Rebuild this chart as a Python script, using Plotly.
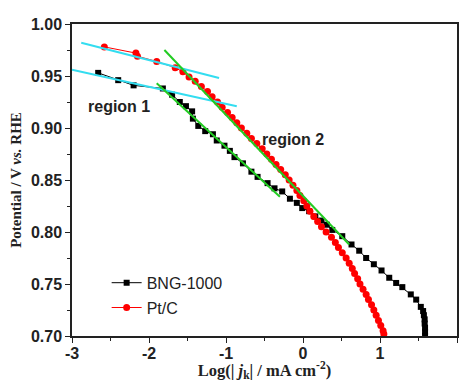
import plotly.graph_objects as go

# BNG-1000 (black squares)
bng_x = [-2.66, -2.40, -2.20, -1.82, -1.70, -1.60, -1.52, -1.44, -1.43, -1.36, -1.27, -1.17,
         -1.12, -1.02, -0.95, -0.89, -0.78, -0.67, -0.59, -0.46, -0.37, -0.27, -0.17, -0.08,
         -0.01, 0.08, 0.16, 0.24, 0.31, 0.38, 0.51, 0.63, 0.73, 0.82, 0.92, 1.02, 1.12, 1.21,
         1.29, 1.40, 1.47, 1.53, 1.56, 1.57, 1.58, 1.58, 1.585, 1.585, 1.585]
bng_y = [0.953, 0.946, 0.941, 0.938, 0.932, 0.925, 0.921, 0.916, 0.909, 0.902, 0.897, 0.894,
         0.888, 0.883, 0.878, 0.872, 0.866, 0.858, 0.853, 0.847, 0.842, 0.839, 0.832, 0.828,
         0.823, 0.820, 0.815, 0.811, 0.807, 0.802, 0.796, 0.788, 0.782, 0.775, 0.769, 0.763,
         0.756, 0.751, 0.747, 0.740, 0.735, 0.728, 0.724, 0.720, 0.716, 0.712, 0.708, 0.704, 0.700]

# Pt/C (red circles)
pt_y = [0.978, 0.972, 0.969, 0.964, 0.958, 0.954, 0.949, 0.945, 0.940, 0.935, 0.930, 0.925,
        0.920, 0.915, 0.910, 0.905, 0.900, 0.895, 0.890, 0.885, 0.880, 0.875, 0.870, 0.865,
        0.860, 0.855, 0.850, 0.845, 0.840, 0.835, 0.830, 0.825, 0.820, 0.815, 0.810, 0.805,
        0.800, 0.795, 0.790, 0.785, 0.780, 0.775, 0.770, 0.765, 0.760, 0.755, 0.750, 0.745,
        0.740, 0.735, 0.730, 0.725, 0.720, 0.715, 0.710, 0.705, 0.702]
pt_x = [-2.58, -2.17, -2.15, -1.90, -1.66, -1.56, -1.48, -1.40, -1.32, -1.24, -1.18, -1.11,
        -1.05, -0.98, -0.92, -0.86, -0.80, -0.73, -0.67, -0.60, -0.53, -0.47, -0.41, -0.35,
        -0.29, -0.23, -0.18, -0.13, -0.08, -0.04, 0.01, 0.05, 0.09, 0.14, 0.19, 0.24,
        0.30, 0.37, 0.42, 0.46, 0.51, 0.56, 0.60, 0.64, 0.67, 0.71, 0.74, 0.78,
        0.82, 0.85, 0.89, 0.92, 0.95, 0.98, 1.01, 1.04, 1.05]

# Tafel fit lines (end points)
cyan1_x = [-2.88, -1.09]
cyan1_y = [0.982, 0.948]
cyan2_x = [-3.00, -0.86]
cyan2_y = [0.956, 0.921]
green1_x = [-1.80, 0.60]
green1_y = [0.975, 0.788]
green2_x = [-1.90, -0.30]
green2_y = [0.943, 0.834]

x_ticks = [-3, -2, -1, 0, 1, 2]
y_ticks = [0.70, 0.75, 0.80, 0.85, 0.90, 0.95, 1.00]

CYAN = "#33DDF0"
GREEN = "#22CC22"
SANS = "Liberation Sans, Arial"
SERIF = "Liberation Serif, Times New Roman"

fig = go.Figure()
fig.add_trace(go.Scatter(x=bng_x, y=bng_y, mode="lines+markers", name="BNG-1000",
                         legendgroup="a",
                         line=dict(color="black", width=1),
                         marker=dict(symbol="square", size=6, color="black")))
fig.add_trace(go.Scatter(x=pt_x, y=pt_y, mode="lines+markers", name="Pt/C",
                         legendgroup="b",
                         line=dict(color="#FF0000", width=1),
                         marker=dict(symbol="circle", size=7, color="#FF0000")))
for fx, fy, c in [(cyan1_x, cyan1_y, CYAN), (cyan2_x, cyan2_y, CYAN),
                  (green1_x, green1_y, GREEN), (green2_x, green2_y, GREEN)]:
    fig.add_trace(go.Scatter(x=fx, y=fy, mode="lines", showlegend=False,
                             line=dict(color=c, width=2), hoverinfo="skip"))

fig.add_annotation(x=-2.39, y=0.921, text="<b>region 1</b>", showarrow=False,
                   font=dict(family=SANS, size=16, color="#222"))
fig.add_annotation(x=-0.13, y=0.889, text="<b>region 2</b>", showarrow=False,
                   font=dict(family=SANS, size=16, color="#222"))

axis_common = dict(showline=True, linecolor="#222", linewidth=1.5, mirror=True,
                   showgrid=False, zeroline=False, ticks="outside", ticklen=5,
                   tickwidth=1.2, tickcolor="#222",
                   tickfont=dict(family=SANS, size=16, color="#222"))

fig.update_xaxes(range=[-3, 2], tickvals=x_ticks, ticktext=[f"<b>{v}</b>" for v in x_ticks],
                 ticklabelstandoff=-3,
                 minor=dict(dtick=0.5, ticks="outside", ticklen=3, tickcolor="#222", tickwidth=1.2),
                 title=dict(text="<b>Log(| <i>j</i><sub>k</sub>| / mA cm<sup>-2</sup>)</b>",
                            font=dict(family=SERIF, size=16.5, color="#222"),
                            standoff=5),
                 **axis_common)
fig.update_yaxes(range=[0.70, 1.00], tickvals=y_ticks, ticktext=[f"<b>{v:.2f}</b>" for v in y_ticks],
                 minor=dict(dtick=0.025, ticks="outside", ticklen=3, tickcolor="#222", tickwidth=1.2),
                 title=dict(text="<b>Potential / V <i>vs.</i> RHE</b>",
                            font=dict(family=SERIF, size=15, color="#222"),
                            standoff=6),
                 **axis_common)

fig.update_layout(width=461, height=381, margin=dict(l=72, r=2, t=24, b=43),
                  paper_bgcolor="white", plot_bgcolor="white",
                  showlegend=True,
                  legend=dict(x=0.09, y=0.225, xanchor="left", yanchor="top",
                              bgcolor="rgba(0,0,0,0)", tracegroupgap=1,
                              font=dict(family=SANS, size=16, color="#222")))

fig.write_html("out.html", config={"displayModeBar": False},
               post_script="document.body.style.margin='0';document.body.style.overflow='hidden';")
